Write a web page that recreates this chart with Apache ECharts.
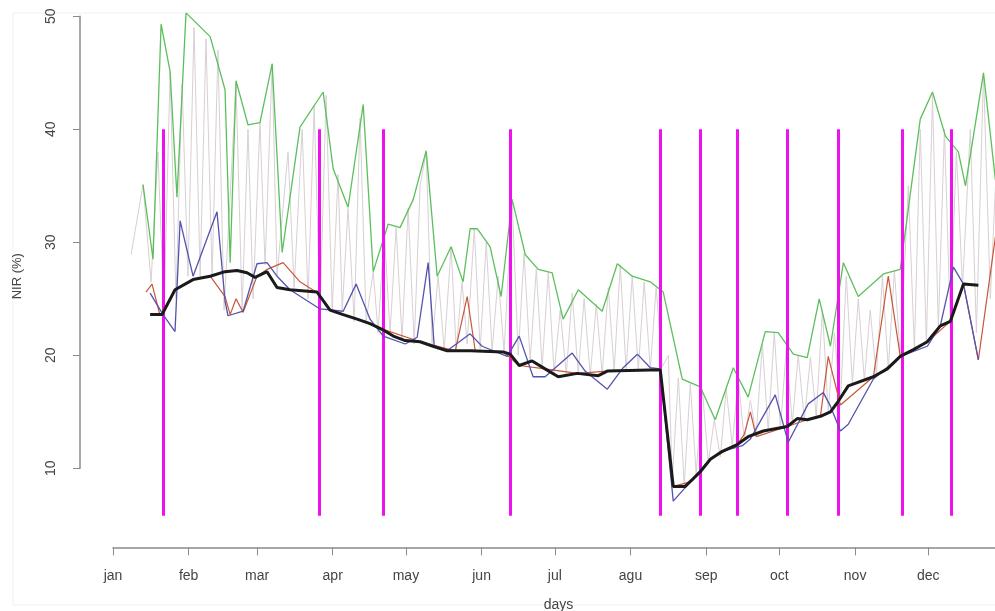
<!DOCTYPE html>
<html>
<head>
<meta charset="utf-8">
<script src="https://cdn.jsdelivr.net/npm/echarts@6/dist/echarts.min.js"></script>
<style>
  html, body { margin: 0; padding: 0; background: #fff; }
  #main { width: 995px; height: 611px; }
</style>
</head>
<body>
<div id="main"></div>
<script>
// 月份刻度（一年中的第几天）
const monthStarts = [1, 32, 60, 91, 121, 152, 182, 213, 244, 274, 305, 335];
const monthNames = ['jan', 'feb', 'mar', 'apr', 'may', 'jun', 'jul', 'agu', 'sep', 'oct', 'nov', 'dec'];
const yTicks = [10, 20, 30, 40, 50];

// 上包络（绿色）
const greenDays = [13.3, 17.4, 20.7, 24.4, 27.2, 30.9, 40.8, 46.9, 49.0, 51.4, 56.3, 61.2, 66.2, 70.3, 77.6, 87.1, 91.2, 97.3, 103.5, 107.6, 113.7, 118.6, 124.0, 129.3, 133.8, 139.5, 144.4, 147.3, 150.2, 155.5, 160.0, 164.5, 169.9, 175.2, 180.9, 185.4, 191.6, 201.4, 207.6, 213.7, 221.1, 226.4, 234.2, 241.6, 247.7, 255.1, 261.2, 268.2, 273.5, 279.7, 285.4, 290.3, 294.9, 300.2, 306.3, 316.6, 323.5, 331.7, 336.7, 342.0, 347.3, 350.2, 357.6, 362.5];
const greenVals = [35.1, 28.5, 49.3, 45.1, 34.0, 50.3, 48.2, 43.5, 28.2, 44.3, 40.4, 40.6, 45.8, 29.1, 40.2, 43.3, 36.5, 33.1, 42.2, 27.4, 31.6, 31.3, 33.8, 38.1, 27.0, 29.6, 26.5, 31.2, 31.2, 29.6, 25.2, 33.8, 28.9, 27.6, 27.3, 23.2, 25.8, 23.9, 28.1, 27.0, 26.5, 25.6, 17.9, 17.2, 14.3, 18.9, 16.3, 22.1, 22.0, 20.1, 19.8, 25.0, 20.8, 28.2, 25.2, 27.2, 27.6, 40.9, 43.3, 39.4, 38.0, 35.0, 45.0, 35.5];

// 下包络（蓝色）
const blueDays = [16.2, 21.5, 26.4, 28.5, 33.8, 43.6, 46.9, 48.1, 54.3, 60.0, 64.1, 68.2, 73.5, 85.8, 95.3, 100.6, 106.3, 111.7, 120.7, 125.6, 130.1, 132.6, 137.9, 147.3, 152.2, 162.5, 167.4, 173.1, 178.0, 189.1, 194.4, 203.5, 210.0, 215.8, 221.1, 225.2, 230.5, 237.5, 245.7, 250.6, 258.8, 262.1, 272.3, 277.6, 285.8, 292.0, 294.9, 299.0, 302.2, 312.5, 323.5, 334.6, 339.9, 345.3, 349.4, 355.5];
const blueVals = [25.5, 23.6, 22.1, 31.9, 27.0, 32.7, 24.8, 23.5, 23.9, 28.1, 28.2, 27.0, 25.8, 24.1, 23.9, 26.3, 23.2, 21.7, 21.0, 21.6, 28.2, 20.8, 20.4, 21.9, 20.8, 19.9, 21.7, 18.1, 18.1, 20.2, 18.6, 17.0, 18.9, 20.1, 18.9, 18.8, 7.1, 8.8, 10.8, 11.5, 12.0, 12.6, 16.5, 12.3, 15.7, 16.7, 15.5, 13.3, 13.9, 17.9, 19.9, 20.8, 22.6, 27.8, 26.3, 19.6];

// 红色
const redDays = [14.5, 17.0, 20.3, 26.4, 33.8, 40.8, 46.9, 49.0, 51.4, 54.3, 60.0, 64.1, 70.7, 77.6, 85.0, 89.9, 101.0, 111.7, 126.8, 141.2, 146.1, 149.4, 160.8, 167.4, 178.0, 191.2, 203.5, 225.2, 230.5, 237.5, 245.7, 256.7, 259.6, 262.1, 264.5, 277.2, 285.4, 290.8, 294.0, 299.0, 312.5, 318.6, 323.5, 334.6, 344.0, 349.4, 355.5, 362.5];
const redVals = [25.6, 26.3, 23.5, 25.8, 26.7, 27.0, 25.2, 23.6, 25.0, 23.8, 27.0, 27.6, 28.2, 26.5, 25.5, 24.0, 23.2, 22.3, 21.2, 20.4, 25.2, 20.4, 20.3, 19.1, 18.8, 18.4, 18.6, 18.7, 8.4, 8.8, 10.8, 12.1, 13.0, 15.0, 12.8, 13.7, 14.3, 14.6, 19.9, 15.6, 18.1, 27.0, 19.9, 21.2, 23.0, 26.3, 19.6, 30.5];

// 平滑基线（黑色粗线）
const blackDays = [16.2, 21.1, 26.4, 33.8, 40.8, 46.9, 51.8, 55.9, 59.2, 64.1, 68.2, 73.5, 84.6, 89.9, 95.3, 101.0, 106.3, 111.2, 115.8, 120.7, 126.8, 132.1, 137.9, 147.3, 160.8, 163.7, 167.4, 172.7, 178.0, 183.4, 191.2, 199.8, 203.5, 221.1, 225.2, 230.5, 235.4, 238.3, 241.6, 245.7, 250.6, 256.7, 261.2, 267.4, 277.2, 281.3, 285.4, 290.8, 294.9, 297.7, 302.2, 312.5, 318.2, 323.5, 328.9, 334.6, 339.9, 344.0, 349.4, 355.5];
const blackVals = [23.6, 23.6, 25.8, 26.7, 27.0, 27.4, 27.5, 27.3, 26.9, 27.4, 26.0, 25.8, 25.6, 24.0, 23.6, 23.2, 22.8, 22.3, 21.7, 21.3, 21.2, 20.8, 20.4, 20.4, 20.3, 20.1, 19.1, 19.5, 18.8, 18.1, 18.4, 18.2, 18.6, 18.7, 18.7, 8.4, 8.4, 9.0, 9.7, 10.8, 11.5, 12.1, 12.8, 13.3, 13.7, 14.4, 14.3, 14.6, 15.0, 15.8, 17.3, 18.1, 18.8, 19.9, 20.5, 21.2, 22.6, 23.0, 26.3, 26.2];

// 原始观测（灰色锯齿）
const grayDays = [8.4, 13.3, 16.6, 19.4, 21.9, 24.4, 26.8, 29.3, 31.7, 34.2, 36.7, 39.1, 41.6, 44.0, 46.5, 51.4, 53.9, 56.3, 58.4, 61.2, 63.3, 66.2, 68.2, 72.7, 75.2, 78.5, 80.9, 83.4, 85.8, 88.3, 90.8, 93.2, 94.9, 97.3, 99.8, 102.2, 104.7, 107.6, 109.6, 112.1, 114.5, 117.0, 119.4, 121.9, 124.4, 126.8, 129.3, 131.7, 134.2, 136.7, 139.5, 141.6, 144.0, 146.1, 149.0, 151.4, 153.9, 156.3, 158.8, 161.2, 164.5, 167.0, 169.4, 171.9, 174.4, 176.8, 179.3, 181.7, 184.2, 186.7, 189.1, 191.6, 194.0, 196.5, 199.0, 201.4, 203.9, 206.3, 208.8, 211.2, 213.7, 216.2, 218.6, 221.1, 223.5, 226.0, 228.5, 230.1, 232.6, 235.0, 237.5, 239.9, 242.4, 244.9, 247.3, 249.8, 252.2, 254.7, 257.1, 259.6, 262.1, 264.5, 267.0, 269.4, 271.9, 274.4, 276.8, 279.3, 281.7, 284.2, 286.7, 289.1, 291.6, 294.0, 296.5, 299.0, 301.4, 303.9, 306.3, 308.8, 311.2, 313.7, 316.2, 318.6, 321.1, 323.5, 326.8, 329.3, 331.7, 334.2, 336.7, 339.1, 341.6, 344.0, 346.5, 349.0, 352.2, 354.7, 357.6, 360.4, 362.5];
const grayVals = [28.9, 35.1, 26.5, 38, 24, 45, 25, 44, 27, 49, 27, 48, 27, 47, 24, 44, 24, 40, 25, 40.6, 28, 45.8, 27, 38, 26, 40, 25, 42, 24, 43, 24, 36, 24, 33, 23, 41, 23, 27.4, 22, 31, 22, 31.3, 21.5, 33, 21, 35, 38, 21, 27, 20.5, 29.6, 20.5, 26.5, 21, 31.2, 20.5, 30, 20.4, 27, 20.3, 33.8, 20, 29, 19.5, 27.6, 19, 27.3, 18.5, 24, 18.3, 25.5, 18.4, 25, 18.2, 24.5, 18.3, 26, 18.6, 28, 18.7, 27, 18.7, 26.5, 18.8, 26, 19, 20, 9, 18, 8.5, 17.5, 9.5, 17, 10.5, 14.3, 11, 17, 12, 18, 12.5, 16, 13, 21, 13.3, 22, 13.5, 20.5, 14, 20, 14.3, 19.8, 14.6, 24, 15, 22, 16, 27, 17.5, 25, 17.8, 24, 18.2, 27, 18.8, 27.5, 20, 35, 20.5, 40, 21, 43, 22.5, 40, 23, 38, 26, 40, 22, 45, 25, 35];

// 事件竖线（品红）
const magentaDays = [21.5, 85.4, 111.7, 163.7, 225.2, 241.6, 256.7, 277.2, 298.1, 324.4, 344.4];
const magentaLow = 5.8;
const magentaHigh = 40;

const chart = echarts.init(document.getElementById('main'));
const font = 'Liberation Sans, Arial, sans-serif';
const axisGray = '#8a8a8a';
const textGray = '#444';

const zip = (d, v) => d.map((x, i) => [x, v[i]]);
const lineSeries = (name, days, vals, color, width, z) => ({
  name: name,
  type: 'line',
  xAxisIndex: 0,
  yAxisIndex: 0,
  data: zip(days, vals),
  symbol: 'none',
  silent: true,
  z: z,
  lineStyle: { color: color, width: width },
  clip: false
});

const option = {
  animation: false,
  backgroundColor: '#fff',
  graphic: [{
    type: 'rect',
    shape: { x: 13, y: 13, width: 1000, height: 592 },
    style: { fill: 'none', stroke: '#f0f0f0', lineWidth: 1 },
    silent: true, z: -10
  }],
  grid: [
    // 数据区：day 1 在 x=113，day 366 在画布外
    { left: 113, width: 891, top: 5, height: 542.4, outerBoundsMode: 'none', containLabel: false },
    // 左侧 y 轴（只画 10~50）
    { left: 80, top: 16.3, height: 452, width: 20, outerBoundsMode: 'none', containLabel: false }
  ],
  xAxis: [{
    gridIndex: 0,
    type: 'value',
    min: 1,
    max: 366,
    name: 'days',
    nameLocation: 'middle',
    nameGap: 51,
    nameTextStyle: { color: textGray, fontSize: 14, fontFamily: font },
    axisLine: { show: true, lineStyle: { color: axisGray, width: 1.5 } },
    axisTick: { show: true, length: 8, lineStyle: { color: axisGray }, customValues: monthStarts },
    axisLabel: {
      show: true, margin: 22, color: textGray, fontSize: 14, fontFamily: font,
      customValues: monthStarts,
      formatter: v => monthNames[monthStarts.indexOf(v)] || ''
    },
    splitLine: { show: false }
  }, {
    gridIndex: 1,
    type: 'value',
    show: false
  }],
  yAxis: [{
    gridIndex: 0,
    type: 'value',
    min: 3,
    max: 51,
    name: 'NIR (%)',
    nameLocation: 'middle',
    nameGap: 89,
    nameTextStyle: { color: textGray, fontSize: 13, fontFamily: font },
    axisLine: { show: false },
    axisTick: { show: false },
    axisLabel: { show: false },
    splitLine: { show: false }
  }, {
    gridIndex: 1,
    type: 'value',
    min: 10,
    max: 50,
    interval: 10,
    axisLine: { show: true, lineStyle: { color: axisGray, width: 1.5 } },
    axisTick: { show: true, length: 7, lineStyle: { color: axisGray } },
    axisLabel: {
      rotate: 90, margin: 22, color: textGray, fontSize: 14, fontFamily: font,
      customValues: yTicks
    },
    splitLine: { show: false }
  }],
  series: [
    lineSeries('obs', grayDays, grayVals, '#d8d0d4', 1, 1),
    lineSeries('max', greenDays, greenVals, '#5cbf5c', 1.3, 3),
    {
      name: 'events',
      type: 'line',
      xAxisIndex: 0,
      yAxisIndex: 0,
      data: [],
      silent: true,
      z: 4,
      markLine: {
        silent: true,
        symbol: ['none', 'none'],
        label: { show: false },
        lineStyle: { color: '#ee11ee', width: 3, type: 'solid' },
        emphasis: { disabled: true },
        data: magentaDays.map(d => [{ coord: [d, magentaLow] }, { coord: [d, magentaHigh] }])
      }
    },
    lineSeries('red', redDays, redVals, '#c8573a', 1.2, 5),
    lineSeries('min', blueDays, blueVals, '#5353ad', 1.3, 6),
    lineSeries('smooth', blackDays, blackVals, '#1a1a1a', 3, 7)
  ]
};

chart.setOption(option);
</script>
</body>
</html>
